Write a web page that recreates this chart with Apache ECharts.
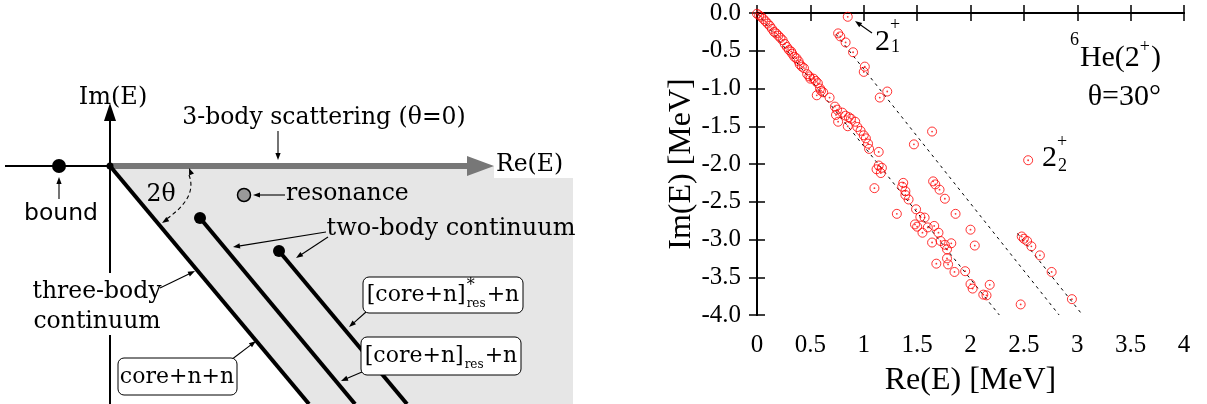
<!DOCTYPE html>
<html><head><meta charset="utf-8">
<script src="https://cdn.jsdelivr.net/npm/echarts@6/dist/echarts.min.js"></script>
<style>html,body{margin:0;padding:0;background:#fff}#c{width:1207px;height:404px}</style>
</head><body><div id="c"></div>
<script>
// ---------- data (right panel: complex-scaled eigenvalues of 6He 2+) ----------
const xTickValues = [0, 0.5, 1, 1.5, 2, 2.5, 3, 3.5, 4];
const yTickValues = [0, -0.5, -1, -1.5, -2, -2.5, -3, -3.5, -4];
const threeBodyBand = [[0.00,-0.01],[0.02,-0.03],[0.04,-0.05],[0.06,-0.08],[0.08,-0.11],[0.10,-0.14],[0.12,-0.17],[0.14,-0.21],[0.16,-0.25],[0.18,-0.27],[0.20,-0.30],[0.22,-0.33],[0.24,-0.36],[0.26,-0.41],[0.28,-0.45],[0.30,-0.49],[0.32,-0.51],[0.33,-0.54],[0.35,-0.58],[0.37,-0.60],[0.39,-0.64],[0.40,-0.68],[0.42,-0.71],[0.44,-0.73],[0.47,-0.81],[0.49,-0.84],[0.50,-0.87],[0.53,-0.87],[0.55,-0.90],[0.57,-0.93],[0.59,-1.00],[0.60,-1.03],[0.62,-1.05],[0.56,-1.09],[0.68,-1.12],[0.73,-1.24],[0.75,-1.28],[0.74,-1.35],[0.76,-1.44],[0.80,-1.32],[0.83,-1.36],[0.86,-1.38],[0.88,-1.40],[0.85,-1.50],[0.92,-1.44],[0.94,-1.51],[0.97,-1.56],[1.00,-1.62],[1.02,-1.66],[1.04,-1.73],[1.05,-1.80],[1.14,-1.84],[1.14,-2.02],[1.17,-2.05],[1.12,-2.07],[1.16,-2.12],[1.10,-2.32],[1.37,-2.25],[1.36,-2.30],[1.39,-2.36],[1.39,-2.41],[1.42,-2.47],[1.31,-2.66],[1.49,-2.60],[1.53,-2.70],[1.57,-2.71],[1.48,-2.80],[1.50,-2.83],[1.55,-2.91],[1.60,-2.84],[1.66,-2.82],[1.70,-2.91],[1.64,-3.04],[1.72,-3.02],[1.76,-3.07],[1.82,-3.05],[1.78,-3.13],[1.68,-3.32],[1.78,-3.25],[1.79,-3.33],[1.85,-3.43],[1.95,-3.42],[2.00,-3.59],[2.02,-3.65],[2.12,-3.73],[2.15,-3.74],[2.18,-3.60]];
const twoBodyBandA = [[0.76,-0.27],[0.78,-0.31],[0.83,-0.39],[0.90,-0.52],[1.01,-0.71],[1.00,-0.78],[1.22,-1.04],[1.15,-1.12],[1.47,-1.74],[1.64,-1.57],[1.65,-2.23],[1.67,-2.27],[1.71,-2.34],[1.76,-2.46],[1.86,-2.66],[2.00,-2.87],[2.04,-3.08],[2.47,-3.86]];
const twoBodyBandB = [[2.48,-2.96],[2.50,-2.99],[2.53,-3.02],[2.57,-3.09],[2.65,-3.21],[2.76,-3.43],[2.95,-3.79]];
const resonanceStates = [[0.85,-0.05],[2.54,-1.95]];
const cutThreeBody = [[0,0],[2.27,-4]];
const cutTwoBodyA = [[0.74,-0.28],[2.83,-4]];
const cutTwoBodyB = [[2.44,-2.92],[3.05,-4]];

// ---------- helpers ----------
const SERIF_L = '"DejaVu Serif", serif';
const SERIF_R = '"Liberation Serif", "Times New Roman", serif';
const LF = 23.5;
const cv = document.createElement('canvas').getContext('2d');
function tw(text, size, fam){ cv.font = size + 'px ' + fam; return cv.measureText(text).width; }
function txt(text, x, y, size, fam, align, extra){
  return Object.assign({type:'text', x:x, y:y, z:20, style:{text:text, font:size+'px '+fam, fill:'#000',
    align:align||'center', textAlign:align||'center', verticalAlign:'middle', textVerticalAlign:'middle'}}, extra||{});
}
function head(x, y, ang, L, W, col){
  const bx = x - L*Math.cos(ang), by = y - L*Math.sin(ang);
  const px = -Math.sin(ang)*W, py = Math.cos(ang)*W;
  return {type:'polygon', z:15, shape:{points:[[x,y],[bx+px,by+py],[bx-px,by-py]]}, style:{fill:col||'#000'}};
}
function arrow(x1,y1,x2,y2,opt){
  opt = opt||{}; const col = opt.col||'#000', L = opt.L||7, W = opt.W||2.6;
  const a = Math.atan2(y2-y1, x2-x1);
  return [{type:'line', z:15, shape:{x1:x1,y1:y1,x2:x2-L*0.8*Math.cos(a),y2:y2-L*0.8*Math.sin(a)}, style:{stroke:col,lineWidth:opt.lw||1.1,lineDash:opt.dash||null}},
          head(x2,y2,a,L,W,col)];
}
function seg(x1,y1,x2,y2,lw,col,z){ return {type:'line', z:z||10, shape:{x1:x1,y1:y1,x2:x2,y2:y2}, style:{stroke:col||'#000', lineWidth:lw, lineCap:'butt'}}; }
function dot(x,y,r,fill,stroke){ return {type:'circle', z:16, shape:{cx:x,cy:y,r:r}, style:{fill:fill, stroke:stroke||null, lineWidth:stroke?1.5:0}}; }
function box(x,y,w,h){ return {type:'rect', z:17, shape:{x:x,y:y,width:w,height:h,r:6}, style:{fill:'#fff',stroke:'#000',lineWidth:1}}; }
function resBox(x,y,w,h,star){
  const F=22, S=12, base='[core+n]', tail='+n';
  const w1=tw(base,F,SERIF_L), ws=tw('res',S,SERIF_L), w2=tw(tail,F,SERIF_L);
  const total=w1+ws+w2+2; let x0 = x + (w-total)/2; const cy = y+h/2;
  const els=[box(x,y,w,h), txt(base,x0,cy,F,SERIF_L,'left'), txt('res',x0+w1+1,cy+9,S,SERIF_L,'left'), txt(tail,x0+w1+ws+2,cy,F,SERIF_L,'left')];
  if(star) els.push(txt('*',x0+w1+1,cy-9,16,SERIF_L,'left'));
  return els;
}

// ---------- left schematic ----------
let G = [];
G.push({type:'polygon', z:1, shape:{points:[[110,166],[573,166],[573,404],[309,404]]}, style:{fill:'#e6e6e6'}});
G.push({type:'rect', z:2, shape:{x:494,y:148,width:79,height:30}, style:{fill:'#fff'}});
G.push(seg(5,166,110,166,2));
G.push(seg(110,166,470,166,6,'#777'));
G.push({type:'polygon', z:11, shape:{points:[[467,156],[494,166],[467,176]]}, style:{fill:'#777'}});
G.push(seg(110,404,110,335,2), seg(110,273,110,118,2));
G.push({type:'polygon', z:11, shape:{points:[[104,121],[110,103],[116,121]]}, style:{fill:'#000'}});
G.push(seg(110,166,309,404,4), seg(200,218,355,404,4), seg(279,251,407,404,4));
G.push(dot(59,166,7,'#000'), dot(110,166,3.5,'#000'), dot(200,218,6,'#000'), dot(279,251,6,'#000'), dot(244,195,6.5,'#999','#000'));
G.push(txt('Im(E)',113,98,24,SERIF_L));
G.push(txt('3-body scattering (θ=0)',324,118,LF,SERIF_L));
G.push(txt('Re(E)',496,165,LF,SERIF_L,'left'));
G.push(txt('bound',61,214,LF,'"DejaVu Sans", sans-serif'));
G.push(txt('2θ',161,195,LF,SERIF_L));
G.push(txt('resonance',286,194,LF,SERIF_L,'left'));
G.push(txt('two-body continuum',451,229,24,SERIF_L));
G.push(txt('three-body',97,292,LF,SERIF_L), txt('continuum',97,322,LF,SERIF_L));
G.push(box(118,358,119,37), txt('core+n+n',177,377,22,SERIF_L));
G = G.concat(resBox(363,277,160,36,true), resBox(361,337,160,38,false));
G = G.concat(arrow(59,199,59,177), arrow(278,131,278,160), arrow(285,195,253,195),
  arrow(326,232,233,247), arrow(328,237,296,258), arrow(160,288,195,271),
  arrow(231,360,256,341), arrow(366,312,349,327), arrow(362,372,341,381));
G.push({type:'bezierCurve', z:15, shape:{x1:189,y1:175,x2:165,y2:220,cpx1:198,cpy1:198}, style:{stroke:'#000',lineWidth:1.1,lineDash:[4,3],fill:null}});
G.push(head(189,168,Math.atan2(175-198,189-198),7,2.6), head(162,223,Math.atan2(220-198,165-198),7,2.6));

// ---------- right annotations ----------
const AF = 30, AS = 18;
// 2_1^+
G = G.concat(arrow(872,33,855,21));
G.push(txt('2',875,42,AF,SERIF_R,'left'), txt('+',890,25,AS,SERIF_R,'left'), txt('1',891,47,AS,SERIF_R,'left'));
// 2_2^+
G.push(txt('2',1042,158,AF,SERIF_R,'left'), txt('+',1057,142,AS,SERIF_R,'left'), txt('2',1058,166,AS,SERIF_R,'left'));
// 6He(2+)
(function(){
  const right = 1161; const wp = tw(')',AF,SERIF_R), wplus = tw('+',AS,SERIF_R), wm = tw('He(2',AF,SERIF_R), w6 = tw('6',AS,SERIF_R);
  let x = right - wp; G.push(txt(')',x,58,AF,SERIF_R,'left'));
  x -= wplus+1; G.push(txt('+',x,47,AS,SERIF_R,'left'));
  x -= wm; G.push(txt('He(2',x,58,AF,SERIF_R,'left'));
  x -= w6+1; G.push(txt('6',x,40,AS,SERIF_R,'left'));
})();
G.push(txt('θ=30°',1161,97,AF,SERIF_R,'right'));

// ---------- chart ----------
const chart = echarts.init(document.getElementById('c'), null, {renderer:'canvas'});
const axisCommon = {
  type:'value', interval:0.5,
  axisLine:{show:true, lineStyle:{color:'#000', width:2}},
  axisTick:{show:true, inside:true, length:8, lineStyle:{color:'#000', width:1.5}},
  splitLine:{show:false}
};
const ptStyle = {symbol:'circle', symbolSize:9, itemStyle:{color:'rgba(0,0,0,0)', borderColor:'#f00', borderWidth:1}};
const allPts = threeBodyBand.concat(twoBodyBandA, twoBodyBandB, resonanceStates);
function cut(d){ return {type:'line', data:d, symbol:'none', silent:true, z:2, lineStyle:{color:'#000', width:1, type:[3,4]}}; }
chart.setOption({
  animation:false,
  backgroundColor:'#fff',
  grid:{left:757, top:13, right:23, bottom:89, containLabel:false},
  xAxis:[
    Object.assign({}, axisCommon, {min:0, max:4, position:'bottom',
      name:'Re(E) [MeV]', nameLocation:'middle', nameGap:50,
      nameTextStyle:{fontFamily:SERIF_R, fontSize:32, color:'#000'},
      axisLabel:{margin:18, fontFamily:SERIF_R, fontSize:25, color:'#000', customValues:xTickValues}}),
    Object.assign({}, axisCommon, {min:0, max:4, position:'top', axisLabel:{show:false}})
  ],
  yAxis:[
    Object.assign({}, axisCommon, {min:-4, max:0, position:'left',
      name:'Im(E) [MeV]', nameLocation:'middle', nameGap:59,
      nameTextStyle:{fontFamily:SERIF_R, fontSize:32, color:'#000'},
      axisLabel:{margin:16, fontFamily:SERIF_R, fontSize:25, color:'#000', formatter:v=>v.toFixed(1)}}),
    Object.assign({}, axisCommon, {min:-4, max:0, position:'right', axisLabel:{show:false}})
  ],
  series:[
    cut(cutThreeBody), cut(cutTwoBodyA), cut(cutTwoBodyB),
    Object.assign({type:'scatter', data:allPts, z:5}, ptStyle),
    {type:'scatter', data:allPts, z:6, symbol:'circle', symbolSize:1.8, itemStyle:{color:'#f00'}}
  ],
  graphic:{elements:G}
});
</script></body></html>
